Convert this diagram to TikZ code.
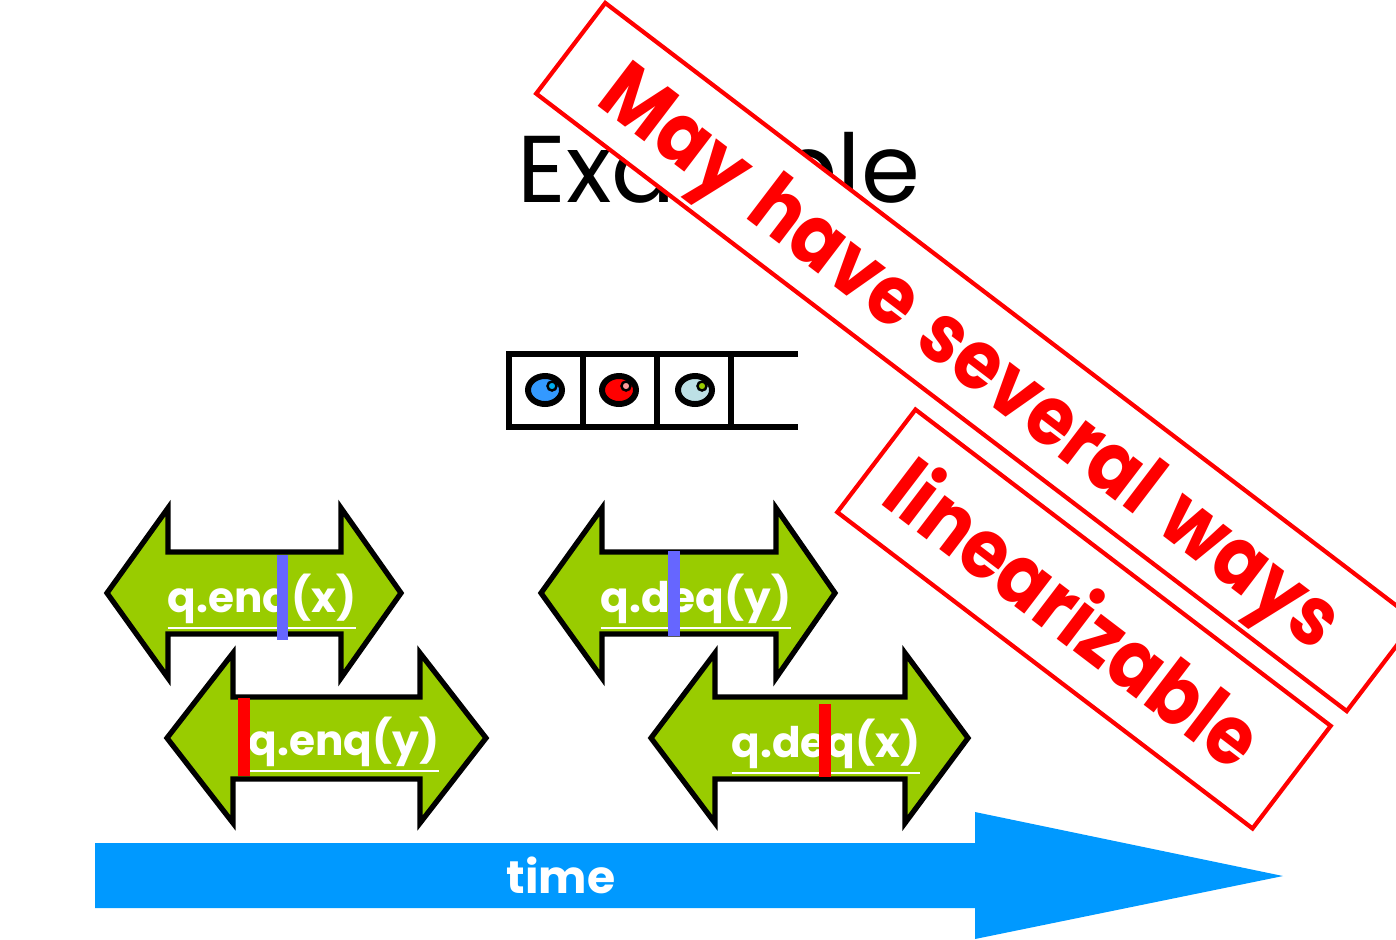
\documentclass[tikz,border=0pt]{standalone}
\usepackage{fontspec}
\setmainfont{Poppins}
\newfontfamily\stampfont[WordSpace=1.4]{Poppins}
\usetikzlibrary{shapes.geometric}

\definecolor{opgreen}{HTML}{99CC00}
\definecolor{timeblue}{HTML}{0099FF}
\definecolor{barblue}{HTML}{6666FF}
\definecolor{ballblue}{HTML}{3399FF}
\definecolor{ballpale}{HTML}{BDE0E5}
\definecolor{hlpink}{HTML}{FF9999}

\begin{document}
\begin{tikzpicture}[x=0.1mm, y=-0.1mm, line join=miter,
    op/.style={draw=black, line width=1.5pt, fill=opgreen},
    oplabel/.style={text=white, font=\fontsize{12}{14}\selectfont\bfseries, anchor=base, inner sep=0pt},
    ball/.style={ellipse, draw=black, line width=1.7pt, minimum width=3.4mm, minimum height=2.8mm, inner sep=0pt, fill=#1},
    hilite/.style={circle, draw=black, line width=0.7pt, minimum size=0.9mm, inner sep=0pt, fill=#1},
    stamp/.style={draw=red, line width=1.2pt, fill=white, rotate=-37.3, inner sep=0pt},
    stamptext/.style={text=red, anchor=base, rotate=-37.3, yscale=1.12, inner sep=0pt,
      font=\stampfont\fontsize{21}{21}\selectfont\bfseries}]
    \useasboundingbox (0,0) rectangle (1396,939);

    % title, half hidden later
    \node[anchor=base west, font=\fontsize{27}{27}\selectfont, inner sep=0pt] (title) at (517,202) {Example};

    % the queue
    \draw[line width=1.7pt] (798,354) -- (509,354) -- (509,427) -- (798,427);
    \foreach \x in {583,657,731}
      \draw[line width=1.7pt] (\x,354) -- (\x,427);
    \node[ball=ballblue] (ball1) at (545,390) {};
    \node[ball=red] (ball2) at (619,390) {};
    \node[ball=ballpale] (ball3) at (695,390) {};
    \node[hilite=cyan] (hl1) at (552,386) {};
    \node[hilite=hlpink] (hl2) at (626,386) {};
    \node[hilite=opgreen] (hl3) at (702,386) {};

    % method calls
    \foreach \l/\a/\b/\r/\y in {107/168/341/401/593, 167/233/420/486/738, 541/602/776/835/593, 651/715/905/968/738}
      \draw[op] (\l,\y) -- (\a,\y-85) -- (\a,\y-41) -- (\b,\y-41) -- (\b,\y-85) -- (\r,\y)
        -- (\b,\y+85) -- (\b,\y+41) -- (\a,\y+41) -- (\a,\y+85) -- cycle;
    \node[oplabel] (enqx) at (262,612) {\underline{q.enq(x)}};
    \node[oplabel] (enqy) at (344,755) {\underline{q.enq(y)}};
    \node[oplabel] (deqy) at (696,612) {\underline{q.deq(y)}};
    \node[oplabel] (deqx) at (826,757) {\underline{q.deq(x)}};

    % linearization points
    \fill[barblue] (277,555) rectangle (288,640);
    \fill[barblue] (668,551) rectangle (680,636);
    \fill[red] (238,698) rectangle (250,776);
    \fill[red] (819,704) rectangle (831,777);

    % time
    \fill[timeblue] (95,843) -- (975,843) -- (975,812) -- (1283,876) -- (975,939) -- (975,908) -- (95,908) -- cycle;
    \node[text=white, font=\fontsize{13}{15}\selectfont\bfseries, anchor=base, inner sep=0pt] (time) at (561,893) {time};

    % stamps
    \node[stamp, minimum width=101.9mm, minimum height=11.4mm] (ways) at (976,357) {};
    \node[stamptext] (waystext) at (955,378) {May have several ways};
    \node[stamp, minimum width=52.2mm, minimum height=12.9mm] (lin) at (1084,619) {};
    \node[stamptext] (lintext) at (1056,638) {linearizable};
  \end{tikzpicture}
\end{document}
